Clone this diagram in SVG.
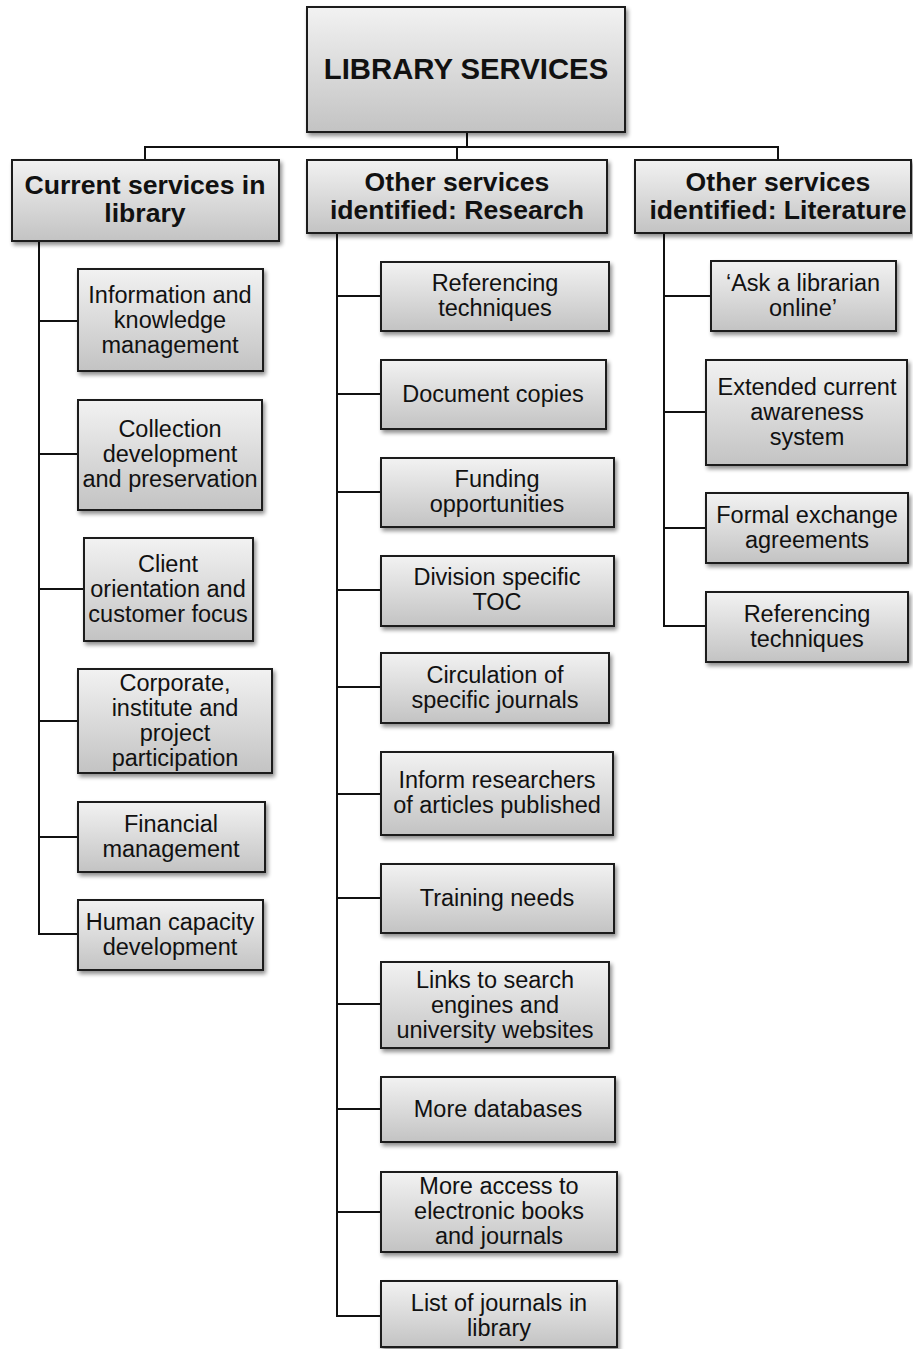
<svg xmlns="http://www.w3.org/2000/svg" width="913" height="1349" viewBox="0 0 913 1349">
<defs>
<linearGradient id="g" x1="0" y1="0" x2="0" y2="1">
<stop offset="0" stop-color="#f2f2f2"/>
<stop offset="1" stop-color="#c3c3c3"/>
</linearGradient>
<filter id="sh" x="-10%" y="-10%" width="130%" height="140%">
<feGaussianBlur in="SourceAlpha" stdDeviation="2"/>
<feOffset dx="2" dy="3" result="b"/>
<feComponentTransfer><feFuncA type="linear" slope="0.45"/></feComponentTransfer>
<feMerge><feMergeNode/><feMergeNode in="SourceGraphic"/></feMerge>
</filter>
</defs>
<style>
rect.box{fill:url(#g);stroke:#1c1c1c;stroke-width:2;filter:url(#sh)}
text{font-family:"Liberation Sans",Arial,sans-serif;fill:#111;text-anchor:middle}
text.c{font-size:23.5px}
text.h{font-size:26.6px;font-weight:bold}
text.r{font-size:29.3px;font-weight:bold}
.con line,.con path{stroke:#111;stroke-width:2;fill:none}
</style>
<rect width="913" height="1349" fill="#fff"/>
<g class="con" id="connectors">
<line x1="467" y1="132" x2="467" y2="147"/>
<line x1="145" y1="147" x2="779" y2="147"/>
<line x1="145" y1="146" x2="145" y2="160"/>
<line x1="457" y1="146" x2="457" y2="160"/>
<line x1="778" y1="146" x2="778" y2="160"/>
<path d="M39 241 V934"/>
<line x1="39" y1="321" x2="78" y2="321"/>
<line x1="39" y1="454" x2="78" y2="454"/>
<line x1="39" y1="589" x2="84" y2="589"/>
<line x1="39" y1="721" x2="78" y2="721"/>
<line x1="39" y1="837" x2="78" y2="837"/>
<line x1="38" y1="934" x2="78" y2="934"/>
<path d="M337 233 V1316"/>
<line x1="337" y1="296" x2="381" y2="296"/>
<line x1="337" y1="394" x2="381" y2="394"/>
<line x1="337" y1="492" x2="381" y2="492"/>
<line x1="337" y1="590" x2="381" y2="590"/>
<line x1="337" y1="687" x2="381" y2="687"/>
<line x1="337" y1="794" x2="381" y2="794"/>
<line x1="337" y1="898" x2="381" y2="898"/>
<line x1="337" y1="1004" x2="381" y2="1004"/>
<line x1="337" y1="1109" x2="381" y2="1109"/>
<line x1="337" y1="1212" x2="381" y2="1212"/>
<line x1="336" y1="1316" x2="381" y2="1316"/>
<path d="M664 233 V626"/>
<line x1="664" y1="296" x2="711" y2="296"/>
<line x1="664" y1="412" x2="706" y2="412"/>
<line x1="664" y1="528" x2="706" y2="528"/>
<line x1="663" y1="626" x2="706" y2="626"/>
</g>
<g id="root"><rect class="box" x="307" y="7" width="318" height="125"/><text class="r" x="466" y="79">LIBRARY SERVICES</text></g>
<g id="h1"><rect class="box" x="12" y="160" width="267" height="81"/><text class="h" x="145" y="194">Current services in</text><text class="h" x="145" y="222">library</text></g>
<g id="h2"><rect class="box" x="307" y="160" width="300" height="73"/><text class="h" x="457" y="191">Other services</text><text class="h" x="457" y="219">identified: Research</text></g>
<g id="h3"><rect class="box" x="635" y="160" width="276" height="73"/><text class="h" x="778" y="191">Other services</text><text class="h" x="778" y="219">identified: Literature</text></g>

<g id="l1"><rect class="box" x="78" y="269" width="185" height="102"/><text class="c" x="170" y="303">Information and</text><text class="c" x="170" y="328">knowledge</text><text class="c" x="170" y="353">management</text></g>
<g id="l2"><rect class="box" x="78" y="400" width="184" height="110"/><text class="c" x="170" y="437">Collection</text><text class="c" x="170" y="462">development</text><text class="c" x="170" y="487">and preservation</text></g>
<g id="l3"><rect class="box" x="84" y="538" width="169" height="103"/><text class="c" x="168" y="572">Client</text><text class="c" x="168" y="597">orientation and</text><text class="c" x="168" y="622">customer focus</text></g>
<g id="l4"><rect class="box" x="78" y="669" width="194" height="104"/><text class="c" x="175" y="691">Corporate,</text><text class="c" x="175" y="716">institute and</text><text class="c" x="175" y="741">project</text><text class="c" x="175" y="766">participation</text></g>
<g id="l5"><rect class="box" x="78" y="802" width="187" height="70"/><text class="c" x="171" y="832">Financial</text><text class="c" x="171" y="857">management</text></g>
<g id="l6"><rect class="box" x="78" y="900" width="185" height="70"/><text class="c" x="170" y="930">Human capacity</text><text class="c" x="170" y="955">development</text></g>

<g id="m1"><rect class="box" x="381" y="262" width="228" height="69"/><text class="c" x="495" y="291">Referencing</text><text class="c" x="495" y="316">techniques</text></g>
<g id="m2"><rect class="box" x="381" y="360" width="225" height="69"/><text class="c" x="493" y="402">Document copies</text></g>
<g id="m3"><rect class="box" x="381" y="458" width="233" height="69"/><text class="c" x="497" y="487">Funding</text><text class="c" x="497" y="512">opportunities</text></g>
<g id="m4"><rect class="box" x="381" y="556" width="233" height="70"/><text class="c" x="497" y="585">Division specific</text><text class="c" x="497" y="610">TOC</text></g>
<g id="m5"><rect class="box" x="381" y="653" width="228" height="70"/><text class="c" x="495" y="683">Circulation of</text><text class="c" x="495" y="708">specific journals</text></g>
<g id="m6"><rect class="box" x="381" y="752" width="232" height="83"/><text class="c" x="497" y="788">Inform researchers</text><text class="c" x="497" y="813">of articles published</text></g>
<g id="m7"><rect class="box" x="381" y="864" width="233" height="69"/><text class="c" x="497" y="906">Training needs</text></g>
<g id="m8"><rect class="box" x="381" y="962" width="228" height="86"/><text class="c" x="495" y="988">Links to search</text><text class="c" x="495" y="1013">engines and</text><text class="c" x="495" y="1038">university websites</text></g>
<g id="m9"><rect class="box" x="381" y="1077" width="234" height="65"/><text class="c" x="498" y="1117">More databases</text></g>
<g id="m10"><rect class="box" x="381" y="1172" width="236" height="80"/><text class="c" x="499" y="1194">More access to</text><text class="c" x="499" y="1219">electronic books</text><text class="c" x="499" y="1244">and journals</text></g>
<g id="m11"><rect class="box" x="381" y="1281" width="236" height="66"/><text class="c" x="499" y="1311">List of journals in</text><text class="c" x="499" y="1336">library</text></g>

<g id="r1"><rect class="box" x="711" y="261" width="185" height="70"/><text class="c" x="803" y="291">‘Ask a librarian</text><text class="c" x="803" y="316">online’</text></g>
<g id="r2"><rect class="box" x="706" y="360" width="201" height="105"/><text class="c" x="807" y="395">Extended current</text><text class="c" x="807" y="420">awareness</text><text class="c" x="807" y="445">system</text></g>
<g id="r3"><rect class="box" x="706" y="493" width="202" height="70"/><text class="c" x="807" y="523">Formal exchange</text><text class="c" x="807" y="548">agreements</text></g>
<g id="r4"><rect class="box" x="706" y="592" width="202" height="70"/><text class="c" x="807" y="622">Referencing</text><text class="c" x="807" y="647">techniques</text></g>
</svg>
